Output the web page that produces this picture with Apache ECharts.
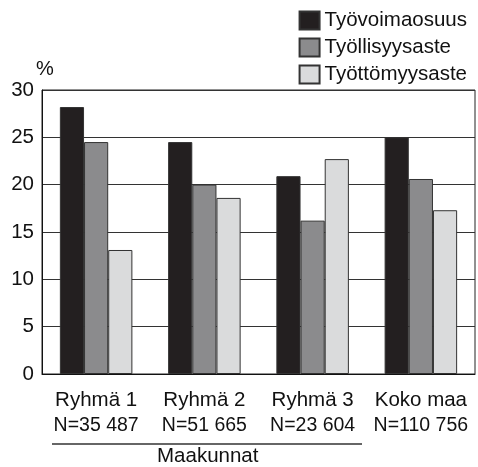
<!DOCTYPE html>
<html><head><meta charset="utf-8">
<script src="https://cdn.jsdelivr.net/npm/echarts@6/dist/echarts.min.js"></script>
<style>html,body{margin:0;padding:0;background:#fff}#c{width:478px;height:467px}</style>
</head><body><div id="c"></div>
<script>
var categories = ['Ryhmä 1', 'Ryhmä 2', 'Ryhmä 3', 'Koko maa'];
var sampleSizes = ['N=35 487', 'N=51 665', 'N=23 604', 'N=110 756'];
var seriesNames = ['Työvoimaosuus', 'Työllisyysaste', 'Työttömyysaste'];
var tyovoimaosuus = [28.2, 24.5, 20.9, 25.0];
var tyollisyysaste = [24.5, 20.0, 16.2, 20.6];
var tyottomyysaste = [13.1, 18.6, 22.7, 17.3];
var yTicks = [0, 5, 10, 15, 20, 25, 30];

var colors = ['#231f20', '#8b8b8d', '#dadbdc'];
var font = 'Liberation Sans, Arial, Helvetica, sans-serif';
var chart = echarts.init(document.getElementById('c'));
var values = [tyovoimaosuus, tyollisyysaste, tyottomyysaste];
chart.setOption({
  animation: false,
  textStyle: {fontFamily: font, color: '#111'},
  legend: {
    orient: 'vertical', right: 6, top: 5,
    itemWidth: 20, itemHeight: 18, itemGap: 6,
    icon: 'rect',
    textStyle: {fontSize: 20.5, color: '#111', fontFamily: font, padding: [0, 0, 0, 0]},
    data: seriesNames
  },
  grid: {left: 42, right: 3, top: 90, bottom: 93, show: true, borderColor: '#222', borderWidth: 1},
  xAxis: {
    type: 'category', data: categories,
    axisLine: {lineStyle: {color: '#111'}},
    axisTick: {show: false},
    axisLabel: {
      margin: 14,
      formatter: function (v, i) { return '{a|' + v + '}\n{b|' + sampleSizes[i] + '}'; },
      rich: {
        a: {fontSize: 20.5, fontFamily: font, color: '#111', lineHeight: 25},
        b: {fontSize: 19.5, fontFamily: font, color: '#111', lineHeight: 25}
      }
    }
  },
  yAxis: {
    type: 'value', min: 0, max: 30, interval: 5,
    name: '%', nameLocation: 'end', nameGap: 8,
    nameTextStyle: {fontSize: 20, fontFamily: font, color: '#111', align: 'left', padding: [0, 0, 0, -6]},
    axisLine: {show: true, lineStyle: {color: '#111'}},
    axisTick: {show: false},
    axisLabel: {fontSize: 20.5, fontFamily: font, color: '#111', margin: 8,
      formatter: function (v) { return yTicks.indexOf(v) >= 0 ? String(v) : ''; }},
    splitLine: {lineStyle: {color: '#333', width: 1.2}}
  },
  series: seriesNames.map(function (n, k) {
    return {
      name: n, type: 'bar', data: values[k],
      barGap: '0%', barCategoryGap: '33%',
      itemStyle: {color: colors[k], borderColor: '#333', borderWidth: 1}
    };
  }),
  graphic: [
    {type: 'line', shape: {x1: 52, y1: 444, x2: 362, y2: 444}, style: {stroke: '#333', lineWidth: 1.5}},
    {type: 'text', left: 157, top: 446, style: {text: 'Maakunnat', fontSize: 20.5, fontFamily: font, fill: '#111'}}
  ]
});
</script></body></html>
